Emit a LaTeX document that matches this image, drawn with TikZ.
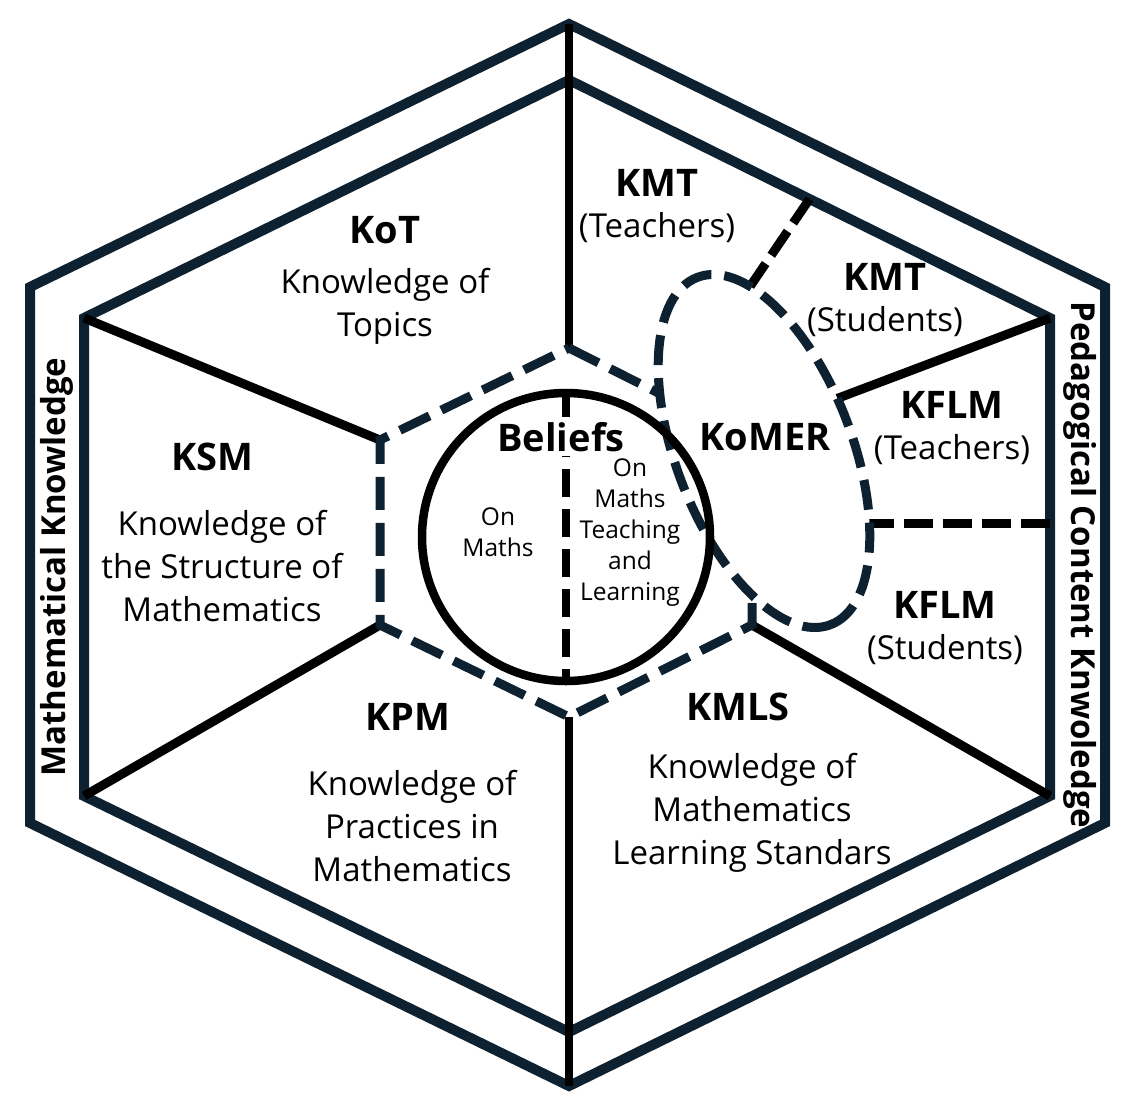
\documentclass[tikz,border=0pt]{standalone}
\usepackage{fontspec}
\setmainfont{Open Sans}
\usetikzlibrary{shapes.geometric,calc}
\definecolor{navy}{RGB}{14,33,48}
\tikzset{
  hexframe/.style={draw=navy, line width=10pt, line join=miter},
  spoke/.style={draw=black, line width=9pt},
  hexdash/.style={draw=navy, line width=9pt, dash pattern=on 33pt off 13pt},
  divider/.style={draw=black, line width=9pt, dash pattern=on 29pt off 10pt},
  komerring/.style={ellipse, draw=navy, fill=white, line width=9pt,
    dash pattern=on 30pt off 13pt, minimum width=372pt, minimum height=176pt,
    inner sep=0pt, rotate=-69},
  heading/.style={font=\fontsize{38}{42}\selectfont\bfseries, inner sep=0pt},
  desc/.style={font=\fontsize{33}{43}\selectfont, align=center, inner sep=0pt},
  note/.style={font=\fontsize{24.5}{31}\selectfont, align=center, inner sep=0pt},
  sidelabel/.style={font=\fontsize{33}{40}\selectfont\bfseries, inner sep=0pt},
}
\begin{document}
\begin{tikzpicture}[x=1pt, y=-1pt]
\useasboundingbox (0,0) rectangle (1128,1109);
% ====================
% Corners of the outer frame, the inner frame and the dashed core
\coordinate (oT) at (569,24);
\coordinate (oUL) at (30,287);
\coordinate (oLL) at (30,823);
\coordinate (oB) at (569,1086);
\coordinate (oLR) at (1105,823);
\coordinate (oUR) at (1105,287);
\coordinate (iT) at (569,80);
\coordinate (iUL) at (84,318);
\coordinate (iLL) at (84,796);
\coordinate (iB) at (569,1032);
\coordinate (iLR) at (1050,796);
\coordinate (iUR) at (1050,318);
\coordinate (hT) at (569,348);
\coordinate (hUL) at (380,440);
\coordinate (hLL) at (380,625);
\coordinate (hB) at (569,717);
\coordinate (hLR) at (752,625);
\coordinate (hUR) at (752,440);
% ends of the lines that run into the KoMER ellipse
\coordinate (kmtA) at ($(iT)!0.5!(iUR)$);
\coordinate (kmtB) at (749,288);
\coordinate (kflmA) at (860,523);
\coordinate (kflmB) at (1050,523);
\coordinate (spokeEnd) at (812,408);

% ====================
% Outer and inner hexagon frames
\draw[hexframe] (oT) -- (oUR) -- (oLR) -- (oB) -- (oLL) -- (oUL) -- cycle;
\draw[hexframe] (iT) -- (iUR) -- (iLR) -- (iB) -- (iLL) -- (iUL) -- cycle;
% Vertical line splitting the two knowledge domains
\draw[spoke, line width=8pt] (oT) -- (hT);
\draw[spoke, line width=8pt] (hB) -- (oB);
% Solid spokes between the sub-domains
\draw[spoke] (iUL) -- (hUL);
\draw[spoke] (iLL) -- (hLL);
\draw[spoke] (iLR) -- (hLR);
\draw[spoke] (iUR) -- (spokeEnd);
% Dashed core hexagon
\draw[hexdash] (hT) -- (hUR) -- (hLR) -- (hB) -- (hLL) -- (hUL) -- cycle;
% Dashed dividers for teachers / students
\draw[divider] (kmtA) -- (kmtB);
\draw[divider] (kflmB) -- (kflmA);

% ====================
% KoMER ellipse, then the beliefs circle
\node[komerring] (komer) at (764,451) {};
\node[draw, circle, line width=8.5pt, minimum size=288pt, inner sep=0pt] (beliefs) at (566,537) {};
\draw[black, line width=8pt, dash pattern=on 28pt off 12pt] (beliefs.north) -- (beliefs.south);

% ====================
% Labels of the sub-domains
\node[heading] (kot) at (385,230) {KoT};
\node[desc] (kotD) at (385,306) {Knowledge of\\Topics};
\node[heading] (kmtT) at (657,183) {KMT};
\node[desc] (kmtTD) at (657,228) {(Teachers)};
\node[heading] (kmtS) at (885,277) {KMT};
\node[desc] (kmtSD) at (885,322) {(Students)};
\node[heading] (kflmT) at (952,405) {KFLM};
\node[desc] (kflmTD) at (952,450) {(Teachers)};
\node[heading] (kflmS) at (945,605) {KFLM};
\node[desc] (kflmSD) at (945,650) {(Students)};
\node[heading] (komerL) at (765,437) {KoMER};
\node[heading] (ksm) at (212,457) {KSM};
\node[desc] (ksmD) at (222,566) {Knowledge of\\the Structure of\\Mathematics};
\node[heading] (kpm) at (408,717) {KPM};
\node[desc] (kpmD) at (412,826) {Knowledge of\\Practices in\\Mathematics};
\node[heading] (kmls) at (738,707) {KMLS};
\node[desc] (kmlsD) at (752,813) {Knowledge of\\Mathematics\\Learning Standars};
% Beliefs in the centre
\node[heading, fill=white, inner sep=4pt] (beliefL) at (561,437) {Beliefs};
\node[note] (onMaths) at (498,532) {On\\Maths};
\node[note] (onTeach) at (630,533) {On\\Maths\\Teaching\\and\\Learning};
% Side titles
\node[sidelabel, rotate=90] (mk) at (57,567) {Mathematical Knowledge};
\node[sidelabel, rotate=-90] (pck) at (1080,565) {Pedagogical Content Knwoledge};
\end{tikzpicture}
\end{document}
